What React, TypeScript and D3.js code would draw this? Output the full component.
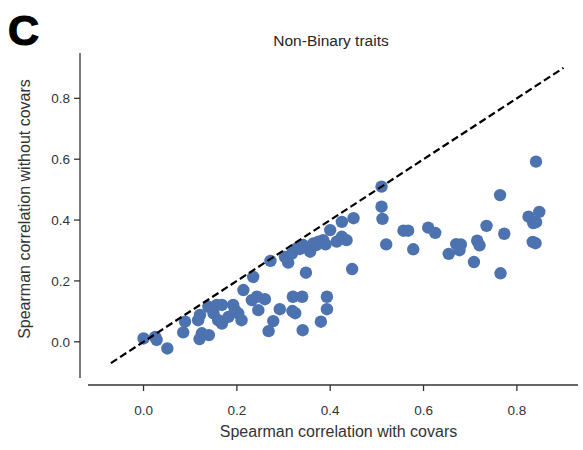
import React from "react";
import * as d3 from "d3";

const xWith: number[] = [
  0.0, 0.025, 0.028, 0.051, 0.089, 0.085, 0.117, 0.121, 0.12, 0.125, 0.14, 0.139, 0.157, 0.168,
  0.15, 0.16, 0.168, 0.182, 0.192, 0.196, 0.203, 0.21, 0.214, 0.232, 0.243, 0.246, 0.235, 0.26,
  0.278, 0.268, 0.292, 0.319, 0.325, 0.32, 0.34, 0.393, 0.393, 0.38, 0.341, 0.272, 0.31, 0.307,
  0.348, 0.447, 0.328, 0.342, 0.357, 0.364, 0.375, 0.385, 0.357, 0.4, 0.414, 0.425, 0.435, 0.425,
  0.45, 0.303, 0.318, 0.335, 0.37, 0.39, 0.51, 0.51, 0.512, 0.52, 0.557, 0.567, 0.578, 0.61,
  0.625, 0.654, 0.67, 0.68, 0.677, 0.708, 0.715, 0.72, 0.735, 0.764, 0.773, 0.765, 0.825, 0.835,
  0.841, 0.848, 0.841, 0.834, 0.84,
];
const yWithout: number[] = [
  0.011, 0.016, 0.006, -0.022, 0.066, 0.031, 0.071, 0.088, 0.009, 0.028, 0.022, 0.115, 0.121, 0.121,
  0.093, 0.071, 0.06, 0.082, 0.121, 0.104, 0.093, 0.071, 0.17, 0.137, 0.148, 0.104, 0.213, 0.14,
  0.068, 0.035, 0.107, 0.101, 0.094, 0.148, 0.148, 0.148, 0.107, 0.066, 0.038, 0.266, 0.26, 0.274,
  0.227, 0.239, 0.307, 0.318, 0.307, 0.323, 0.329, 0.334, 0.296, 0.367, 0.329, 0.345, 0.334, 0.394,
  0.406, 0.279, 0.29, 0.305, 0.318, 0.32, 0.51, 0.444, 0.404, 0.32, 0.365, 0.365, 0.304, 0.375,
  0.358, 0.289, 0.321, 0.32, 0.301, 0.262, 0.332, 0.317, 0.381, 0.482, 0.355, 0.225, 0.411, 0.39,
  0.393, 0.427, 0.592, 0.328, 0.324,
];
const xTicks: number[] = [0.0, 0.2, 0.4, 0.6, 0.8];
const yTicks: number[] = [0.0, 0.2, 0.4, 0.6, 0.8];
const diagonal: number[] = [-0.07, 0.9];

export default function App() {
  const W = 583, H = 450;
  const x = d3.scaleLinear().domain([-0.119, 0.931]).range([88, 578]);
  const y = d3.scaleLinear().domain([-0.119, 0.949]).range([378, 53]);
  const axisY = 385;
  const axisX = 80;
  const tickColor = "#333";
  const font = "'Liberation Sans', Arial, sans-serif";
  const line = d3.line<number>().x((d) => x(d)).y((d) => y(d));
  const points = xWith.map((v, i) => ({ x: v, y: yWithout[i] }));
  const fmt = d3.format(".1f");
  return (
    <svg width={W} height={H} style={{ position: "absolute", left: 0, top: 0, background: "#fff" }} fontFamily={font}>
      <text x={8} y={45} fontSize={43} fontWeight="bold" fill="#000" stroke="#000" strokeWidth={1.2}>C</text>
      <text x={331} y={46} fontSize={15.5} textAnchor="middle" fill="#262626">Non-Binary traits</text>
      {/* x axis */}
      <line x1={x.range()[0]} x2={x.range()[1]} y1={axisY} y2={axisY} stroke={tickColor} strokeWidth={1.3} />
      {xTicks.map((t) => (
        <g key={"xt" + t}>
          <line x1={x(t)} x2={x(t)} y1={axisY} y2={axisY + 6} stroke={tickColor} strokeWidth={1.3} />
          <text x={x(t)} y={axisY + 30} fontSize={13.5} textAnchor="middle" fill="#333">{fmt(t)}</text>
        </g>
      ))}
      <text x={338.5} y={437} fontSize={16} textAnchor="middle" fill="#333">Spearman correlation with covars</text>
      {/* y axis */}
      <line x1={axisX} x2={axisX} y1={y.range()[0]} y2={y.range()[1]} stroke={tickColor} strokeWidth={1.3} />
      {yTicks.map((t) => (
        <g key={"yt" + t}>
          <line x1={axisX - 6} x2={axisX} y1={y(t)} y2={y(t)} stroke={tickColor} strokeWidth={1.3} />
          <text x={axisX - 10} y={y(t) + 5} fontSize={13.5} textAnchor="end" fill="#333">{fmt(t)}</text>
        </g>
      ))}
      <text transform={`translate(30,209) rotate(-90)`} fontSize={16} textAnchor="middle" fill="#333">
        Spearman correlation without covars
      </text>
      {/* points */}
      {points.map((p, i) => (
        <circle key={i} cx={x(p.x)} cy={y(p.y)} r={6.2} fill="#4C72B0" />
      ))}
      {/* diagonal */}
      <path d={line(diagonal) || ""} stroke="#000" strokeWidth={2.2} strokeDasharray="7.4,3.6" fill="none" />
    </svg>
  );
}
